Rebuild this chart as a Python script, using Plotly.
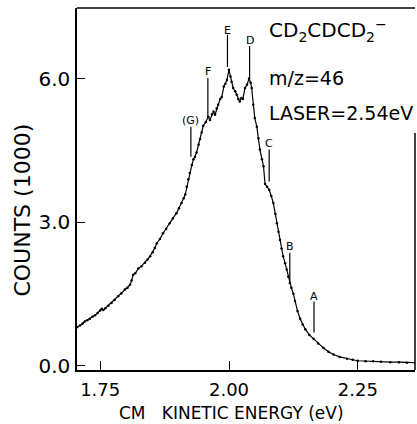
import plotly.graph_objects as go

# ---- data ----
energy = [1.705, 1.711, 1.716, 1.720, 1.725, 1.730, 1.735, 1.740, 1.745, 1.750,
          1.753, 1.756, 1.760, 1.766, 1.772, 1.778, 1.785, 1.791, 1.798, 1.803,
          1.808, 1.811, 1.814, 1.818, 1.824, 1.830, 1.837, 1.842, 1.847, 1.852,
          1.856, 1.860, 1.866, 1.872, 1.878, 1.885, 1.891, 1.898, 1.903, 1.908,
          1.912, 1.915, 1.918, 1.921, 1.924, 1.928, 1.931, 1.934, 1.937, 1.941,
          1.944, 1.947, 1.950, 1.955, 1.960, 1.963, 1.967, 1.970, 1.973, 1.976,
          1.979, 1.983, 1.986, 1.990, 1.993, 1.996, 2.000, 2.003, 2.005, 2.008,
          2.012, 2.015, 2.018, 2.021, 2.024, 2.027, 2.031, 2.035, 2.039, 2.042,
          2.044, 2.047, 2.050, 2.054, 2.057, 2.060, 2.064, 2.067, 2.070, 2.074,
          2.078, 2.082, 2.086, 2.090, 2.093, 2.096, 2.099, 2.102, 2.105, 2.109,
          2.112, 2.115, 2.118, 2.121, 2.125, 2.128, 2.133, 2.138, 2.143, 2.148,
          2.156, 2.164, 2.173, 2.183, 2.193, 2.203, 2.215, 2.229, 2.240, 2.250,
          2.265, 2.280, 2.295, 2.313, 2.330, 2.345, 2.361]
counts = [0.80, 0.84, 0.88, 0.92, 0.95, 0.98, 1.02, 1.05, 1.10, 1.15,
          1.19, 1.16, 1.20, 1.25, 1.31, 1.37, 1.45, 1.51, 1.59, 1.63,
          1.69, 1.78, 1.90, 1.93, 2.03, 2.08, 2.15, 2.22, 2.29, 2.37,
          2.46, 2.56, 2.65, 2.77, 2.86, 2.98, 3.08, 3.19, 3.29, 3.40,
          3.50, 3.58, 3.74, 3.90, 4.03, 4.20, 4.32, 4.37, 4.46, 4.62,
          4.74, 4.88, 5.02, 5.10, 5.21, 5.14, 5.26, 5.32, 5.25, 5.38,
          5.46, 5.58, 5.62, 5.84, 5.90, 5.98, 6.19, 6.05, 5.94, 5.81,
          5.74, 5.67, 5.58, 5.53, 5.60, 5.58, 5.81, 5.88, 6.01, 5.92,
          5.81, 5.46, 5.18, 5.00, 4.76, 4.52, 4.32, 4.17, 3.80, 3.74,
          3.68, 3.55, 3.40, 3.17, 2.98, 2.80, 2.63, 2.45, 2.29, 2.14,
          2.01, 1.86, 1.73, 1.63, 1.50, 1.35, 1.14, 0.98, 0.86, 0.76,
          0.64, 0.56, 0.46, 0.37, 0.29, 0.23, 0.18, 0.14, 0.12, 0.10,
          0.09, 0.09, 0.08, 0.07, 0.07, 0.06, 0.06]

x_ticks = [1.75, 2.00, 2.25]
x_tick_labels = ["1.75", "2.00", "2.25"]
y_ticks = [0.0, 3.0, 6.0]
y_tick_labels = ["0.0", "3.0", "6.0"]

peak_labels = ["E", "D", "F", "(G)", "C", "B", "A"]
peak_energy = [1.997, 2.040, 1.959, 1.926, 2.078, 2.118, 2.165]
peak_label_y = [7.02, 6.80, 6.15, 5.13, 4.64, 2.49, 1.45]
peak_line_top = [6.92, 6.69, 6.02, 5.00, 4.52, 2.36, 1.34]
peak_line_bottom = [6.25, 6.02, 5.19, 4.37, 3.85, 1.71, 0.69]

info_lines = ["CD<sub>2</sub>CDCD<sub>2</sub><sup>\u2212</sup>", "m/z=46", "LASER=2.54eV"]
info_sizes = [20, 19, 19]
info_y = [7.02, 6.02, 5.29]
info_x = 2.074

FONT = "DejaVu Sans"

fig = go.Figure()
fig.add_trace(go.Scatter(
    x=energy, y=counts, mode="lines+markers",
    line=dict(color="black", width=1.2),
    marker=dict(color="black", size=2.5),
    showlegend=False, hoverinfo="skip"))

shapes = []
for xe, yt, yb in zip(peak_energy, peak_line_top, peak_line_bottom):
    shapes.append(dict(type="line", xref="x", yref="y", x0=xe, x1=xe, y0=yb, y1=yt,
                       line=dict(color="black", width=1.2)))
# frame: top line and partial right line (as in the scan)
shapes.append(dict(type="line", xref="paper", yref="paper", x0=0, x1=1, y0=1, y1=1,
                   line=dict(color="black", width=1.5)))
shapes.append(dict(type="line", xref="paper", yref="paper", x0=1, x1=1, y0=0, y1=0.655,
                   line=dict(color="black", width=1.5)))

annotations = []
for lab, xe, yl in zip(peak_labels, peak_energy, peak_label_y):
    annotations.append(dict(x=xe, y=yl, xref="x", yref="y", text=lab, showarrow=False,
                            font=dict(family=FONT, size=11, color="black"),
                            xanchor="center", yanchor="middle"))
for txt, yy, fs in zip(info_lines, info_y, info_sizes):
    annotations.append(dict(x=info_x, y=yy, xref="x", yref="y", text=txt, showarrow=False,
                            font=dict(family=FONT, size=fs, color="black"),
                            xanchor="left", yanchor="middle"))
annotations.append(dict(x=-0.16, y=0.443, xref="paper", yref="paper",
                        text="COUNTS (1000)", textangle=-90, showarrow=False,
                        font=dict(family=FONT, size=22, color="black"),
                        xanchor="center", yanchor="middle"))
annotations.append(dict(x=0.456, y=-0.12, xref="paper", yref="paper",
                        text="CM\u00a0\u00a0 KINETIC ENERGY (eV)", showarrow=False,
                        font=dict(family=FONT, size=17, color="black"),
                        xanchor="center", yanchor="middle"))

fig.update_layout(
    template="none",
    width=417, height=424,
    margin=dict(l=77, r=2, t=8, b=54, pad=0),
    paper_bgcolor="white", plot_bgcolor="white",
    shapes=shapes, annotations=annotations,
    xaxis=dict(range=[1.705, 2.361], tickvals=x_ticks, ticktext=x_tick_labels,
               ticks="inside", ticklen=9, tickwidth=1.3, tickcolor="black",
               showline=True, linecolor="black", linewidth=1.5, mirror=False,
               showgrid=False, zeroline=False, ticklabelstandoff=3, automargin=False,
               tickfont=dict(family=FONT, size=18, color="black")),
    yaxis=dict(range=[-0.094, 7.485], tickvals=y_ticks, ticktext=y_tick_labels,
               ticks="inside", ticklen=8, tickwidth=1.3, tickcolor="black",
               showline=True, linecolor="black", linewidth=1.5, mirror=False,
               showgrid=False, zeroline=False, ticklabelstandoff=1, automargin=False,
               tickfont=dict(family=FONT, size=20, color="black")),
)

fig.write_html("out.html", config={"displayModeBar": False},
               post_script="document.body.style.margin='0px';")
